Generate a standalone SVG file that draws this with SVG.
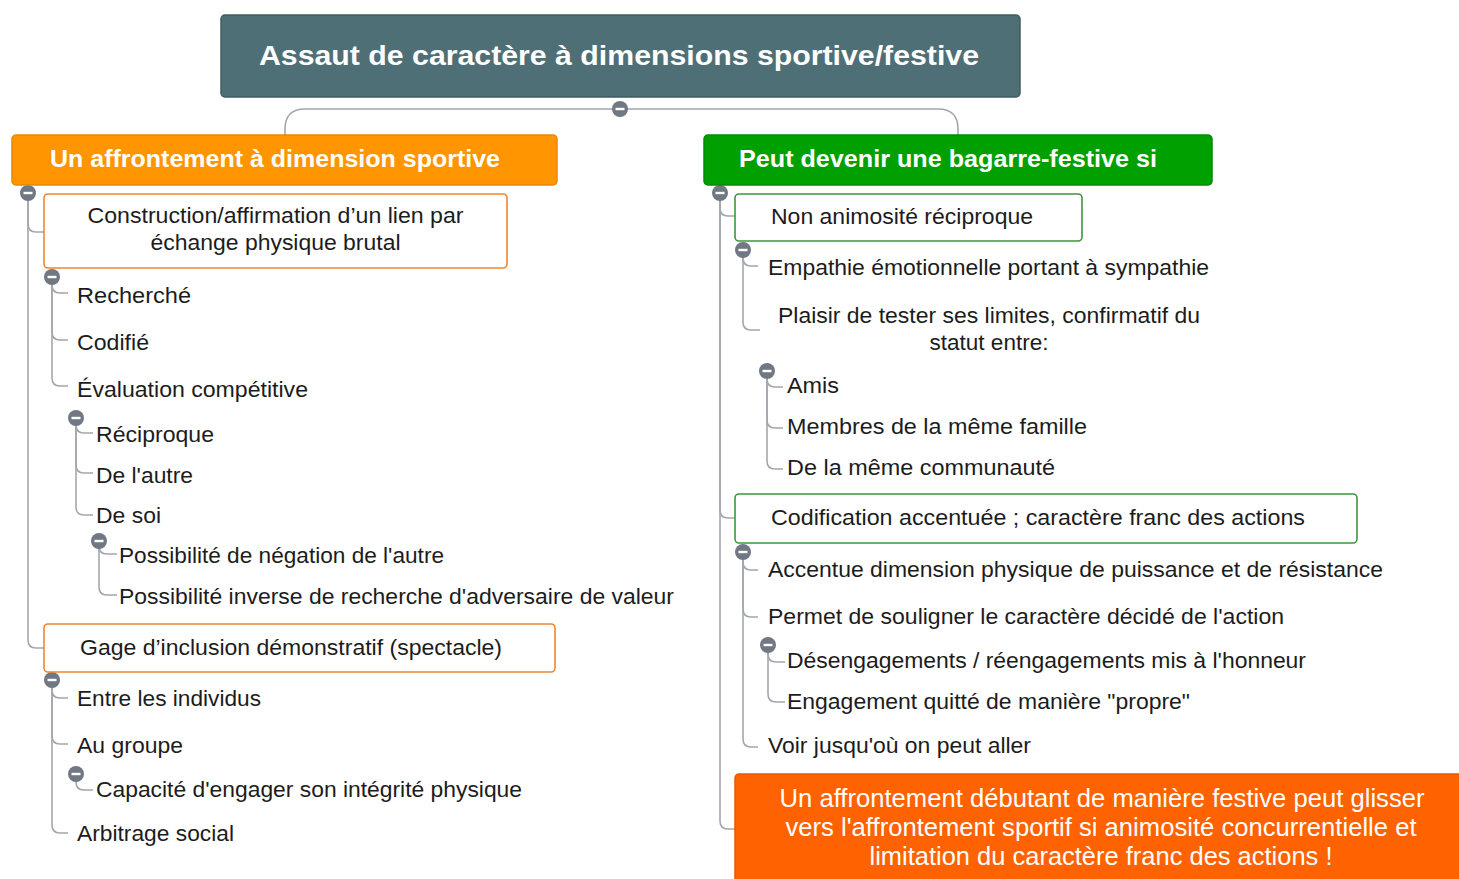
<svg xmlns="http://www.w3.org/2000/svg" xmlns:xlink="http://www.w3.org/1999/xlink" width="1459" height="879" viewBox="0 0 1459 879">
<style>
.t{font-family:"Liberation Sans",Arial,sans-serif;font-size:22px;fill:#1c1c1c}
.w{font-family:"Liberation Sans",Arial,sans-serif;fill:#ffffff}
.b{font-weight:bold}
.c{fill:none;stroke:#a3a7ad;stroke-width:1.6}
.ob{fill:#ffffff;stroke:#ef8530;stroke-width:1.6}
.gb{fill:#ffffff;stroke:#3b983b;stroke-width:1.6}
</style>
<defs>
<g id="minus"><circle r="8" fill="#707884"/><rect x="-4.5" y="-1.2" width="9" height="2.4" fill="#ffffff"/></g>
</defs>
<rect width="1459" height="879" fill="#ffffff"/>

<g id="connectors">
<path class="c" d="M620 109 H305 Q285 109 285 129 V135"/>
<path class="c" d="M620 109 H938 Q958 109 958 129 V135"/>
<!-- left main -->
<path class="c" d="M28 193 V224 Q28 232 36 232 H44"/>
<path class="c" d="M28 193 V640 Q28 648 36 648 H44"/>
<path class="c" d="M52 277 V285 Q52 293 60 293 H68"/>
<path class="c" d="M52 277 V332 Q52 340 60 340 H68"/>
<path class="c" d="M52 277 V378 Q52 386 60 386 H68"/>
<path class="c" d="M76 418 V425 Q76 433 84 433 H93"/>
<path class="c" d="M76 418 V465 Q76 473 84 473 H93"/>
<path class="c" d="M76 418 V507 Q76 515 84 515 H93"/>
<path class="c" d="M99 541 V546 Q99 554 107 554 H117"/>
<path class="c" d="M99 541 V587 Q99 595 107 595 H117"/>
<path class="c" d="M52 680 V690 Q52 698 60 698 H68"/>
<path class="c" d="M52 680 V736 Q52 744 60 744 H68"/>
<path class="c" d="M52 680 V825 Q52 833 60 833 H68"/>
<path class="c" d="M76 774 V782 Q76 790 84 790 H93"/>
<!-- right main -->
<path class="c" d="M720 193 V208 Q720 216 728 216 H735"/>
<path class="c" d="M720 193 V510 Q720 518 728 518 H735"/>
<path class="c" d="M720 193 V821 Q720 829 728 829 H735"/>
<path class="c" d="M743 250 V258 Q743 266 751 266 H758"/>
<path class="c" d="M743 250 V322 Q743 330 751 330 H760"/>
<path class="c" d="M767 371 V379 Q767 387 775 387 H783"/>
<path class="c" d="M767 371 V420 Q767 428 775 428 H783"/>
<path class="c" d="M767 371 V461 Q767 469 775 469 H783"/>
<path class="c" d="M743 552 V562 Q743 570 751 570 H758"/>
<path class="c" d="M743 552 V609 Q743 617 751 617 H758"/>
<path class="c" d="M743 552 V739 Q743 747 751 747 H758"/>
<path class="c" d="M768 645 V654 Q768 662 776 662 H785"/>
<path class="c" d="M768 645 V694 Q768 702 776 702 H785"/>
<use xlink:href="#minus" x="620" y="109"/>
<use xlink:href="#minus" x="28" y="193"/>
<use xlink:href="#minus" x="52" y="277"/>
<use xlink:href="#minus" x="76" y="418"/>
<use xlink:href="#minus" x="99" y="541"/>
<use xlink:href="#minus" x="52" y="680"/>
<use xlink:href="#minus" x="76" y="774"/>
<use xlink:href="#minus" x="720" y="193"/>
<use xlink:href="#minus" x="743" y="250"/>
<use xlink:href="#minus" x="767" y="371"/>
<use xlink:href="#minus" x="743" y="552"/>
<use xlink:href="#minus" x="768" y="645"/>
</g>

<g id="root">
<rect x="221" y="15" width="799" height="82" rx="4" fill="#4f6f76" stroke="#3f5c62" stroke-width="1.5"/>
<text class="w b" x="619" y="65" font-size="28" text-anchor="middle" textLength="720" lengthAdjust="spacingAndGlyphs">Assaut de caractère à dimensions sportive/festive</text>
</g>

<g id="sportive">
<rect x="12" y="135" width="545" height="50" rx="4" fill="#ff9500" stroke="#ea8700" stroke-width="1.5"/>
<text class="w b" x="275" y="167" font-size="24" text-anchor="middle" textLength="450" lengthAdjust="spacingAndGlyphs">Un affrontement à dimension sportive</text>
</g>
<g id="construction">
<rect class="ob" x="44" y="194" width="463" height="74" rx="4"/>
<text class="t" x="275.5" y="223" text-anchor="middle" textLength="376" lengthAdjust="spacingAndGlyphs">Construction/affirmation d’un lien par</text>
<text class="t" x="275.5" y="250" text-anchor="middle" textLength="250" lengthAdjust="spacingAndGlyphs">échange physique brutal</text>
</g>
<g id="recherche"><text class="t" x="77" y="303" textLength="114" lengthAdjust="spacingAndGlyphs">Recherché</text></g>
<g id="codifie"><text class="t" x="77" y="350" textLength="72" lengthAdjust="spacingAndGlyphs">Codifié</text></g>
<g id="evaluation"><text class="t" x="77" y="397" textLength="231" lengthAdjust="spacingAndGlyphs">Évaluation compétitive</text></g>
<g id="reciproque"><text class="t" x="96" y="442" textLength="118" lengthAdjust="spacingAndGlyphs">Réciproque</text></g>
<g id="delautre"><text class="t" x="96" y="483" textLength="97" lengthAdjust="spacingAndGlyphs">De l'autre</text></g>
<g id="desoi"><text class="t" x="96" y="523" textLength="65" lengthAdjust="spacingAndGlyphs">De soi</text></g>
<g id="negation"><text class="t" x="119" y="563" textLength="325" lengthAdjust="spacingAndGlyphs">Possibilité de négation de l'autre</text></g>
<g id="inverse"><text class="t" x="119" y="604" textLength="555" lengthAdjust="spacingAndGlyphs">Possibilité inverse de recherche d'adversaire de valeur</text></g>
<g id="gage">
<rect class="ob" x="44" y="624" width="511" height="48" rx="4"/>
<text class="t" x="80" y="655" textLength="422" lengthAdjust="spacingAndGlyphs">Gage d’inclusion démonstratif (spectacle)</text>
</g>
<g id="individus"><text class="t" x="77" y="706" textLength="184" lengthAdjust="spacingAndGlyphs">Entre les individus</text></g>
<g id="groupe"><text class="t" x="77" y="753" textLength="106" lengthAdjust="spacingAndGlyphs">Au groupe</text></g>
<g id="capacite"><text class="t" x="96" y="797" textLength="426" lengthAdjust="spacingAndGlyphs">Capacité d'engager son intégrité physique</text></g>
<g id="arbitrage"><text class="t" x="77" y="841" textLength="157" lengthAdjust="spacingAndGlyphs">Arbitrage social</text></g>

<g id="festive">
<rect x="704" y="135" width="508" height="50" rx="4" fill="#00a000" stroke="#008a00" stroke-width="1.5"/>
<text class="w b" x="948" y="167" font-size="24" text-anchor="middle" textLength="418" lengthAdjust="spacingAndGlyphs">Peut devenir une bagarre-festive si</text>
</g>
<g id="nonanimosite">
<rect class="gb" x="735" y="194" width="347" height="47" rx="4"/>
<text class="t" x="771" y="224" textLength="262" lengthAdjust="spacingAndGlyphs">Non animosité réciproque</text>
</g>
<g id="empathie"><text class="t" x="768" y="275" textLength="441" lengthAdjust="spacingAndGlyphs">Empathie émotionnelle portant à sympathie</text></g>
<g id="plaisir">
<text class="t" x="989" y="323" text-anchor="middle" textLength="422" lengthAdjust="spacingAndGlyphs">Plaisir de tester ses limites, confirmatif du</text>
<text class="t" x="989" y="350" text-anchor="middle" textLength="119" lengthAdjust="spacingAndGlyphs">statut entre:</text>
</g>
<g id="amis"><text class="t" x="787" y="393" textLength="52" lengthAdjust="spacingAndGlyphs">Amis</text></g>
<g id="famille"><text class="t" x="787" y="434" textLength="300" lengthAdjust="spacingAndGlyphs">Membres de la même famille</text></g>
<g id="communaute"><text class="t" x="787" y="475" textLength="268" lengthAdjust="spacingAndGlyphs">De la même communauté</text></g>
<g id="codification">
<rect class="gb" x="735" y="494" width="622" height="49" rx="4"/>
<text class="t" x="771" y="525" textLength="534" lengthAdjust="spacingAndGlyphs">Codification accentuée ; caractère franc des actions</text>
</g>
<g id="accentue"><text class="t" x="768" y="577" textLength="615" lengthAdjust="spacingAndGlyphs">Accentue dimension physique de puissance et de résistance</text></g>
<g id="permet"><text class="t" x="768" y="624" textLength="516" lengthAdjust="spacingAndGlyphs">Permet de souligner le caractère décidé de l'action</text></g>
<g id="desengagements"><text class="t" x="787" y="668" textLength="519" lengthAdjust="spacingAndGlyphs">Désengagements / réengagements mis à l'honneur</text></g>
<g id="engagement"><text class="t" x="787" y="709" textLength="403" lengthAdjust="spacingAndGlyphs">Engagement quitté de manière "propre"</text></g>
<g id="voir"><text class="t" x="768" y="753" textLength="263" lengthAdjust="spacingAndGlyphs">Voir jusqu'où on peut aller</text></g>
<g id="glisser">
<rect x="735" y="774" width="740" height="120" rx="4" fill="#ff6200" stroke="#e85800" stroke-width="1.5"/>
<text class="w" x="1102" y="807" font-size="25" text-anchor="middle" textLength="645" lengthAdjust="spacingAndGlyphs">Un affrontement débutant de manière festive peut glisser</text>
<text class="w" x="1101" y="836" font-size="25" text-anchor="middle" textLength="631" lengthAdjust="spacingAndGlyphs">vers l'affrontement sportif si animosité concurrentielle et</text>
<text class="w" x="1101" y="865" font-size="25" text-anchor="middle" textLength="463" lengthAdjust="spacingAndGlyphs">limitation du caractère franc des actions !</text>
</g>
</svg>
